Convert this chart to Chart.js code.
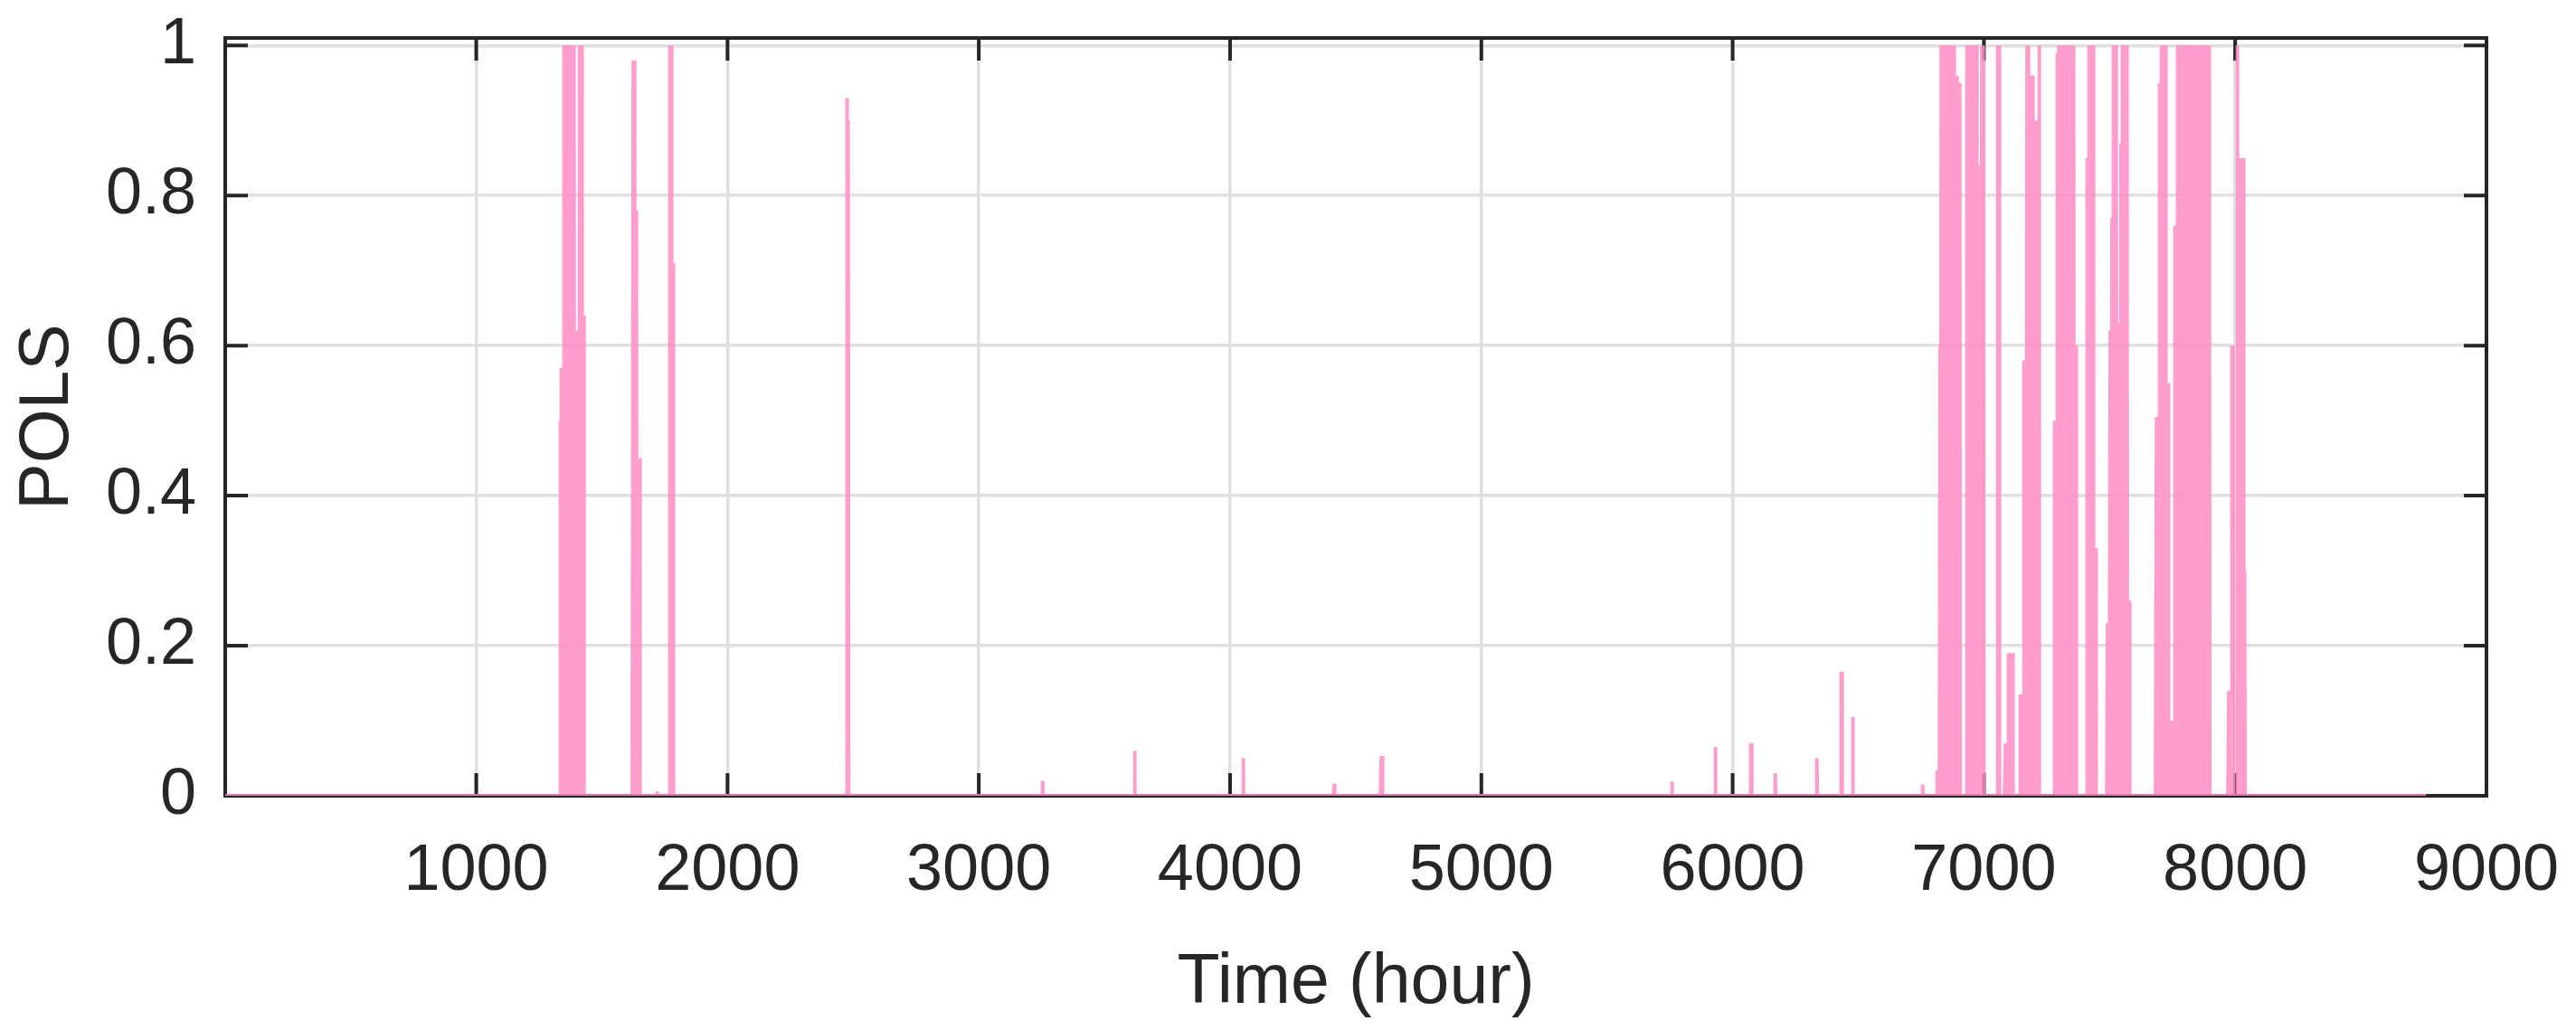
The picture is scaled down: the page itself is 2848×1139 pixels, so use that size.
<!DOCTYPE html>
<html>
<head>
<meta charset="utf-8">
<script src="https://cdn.jsdelivr.net/npm/chart.js@4.4.1/dist/chart.umd.min.js"></script>
<style>
  html, body { margin: 0; padding: 0; background: #ffffff; overflow: hidden; }
  canvas { display: block; }
</style>
</head>
<body>
<canvas id="chart" width="2848" height="1139" style="width:2848px;height:1139px"></canvas>
<script>
// ---------------- data ----------------
const hoursInYear = 8760;

// hours with a non-zero POLS value (all other hours are 0)
const spikeHours = [
  1336, 1340, 1344, 1350, 1354, 1358, 1362, 1366, 1370, 1374, 1378, 1382, 1386, 1390,
  1396, 1400, 1404, 1411, 1415, 1420, 1427,
  1625, 1630, 1638, 1646, 1652, 1720, 1772, 1777, 1783,
  2475, 2481,
  3255, 3621, 4053, 4415, 4602, 4606,
  5759, 5931, 6071, 6075, 6170, 6336, 6431, 6435, 6479, 6757, 6815,
  6826, 6830, 6834, 6840, 6845, 6850, 6855, 6860, 6865, 6870, 6875, 6880, 6885, 6892, 6905,
  6932, 6937, 6942, 6947, 6952, 6957, 6962, 6967, 6972, 6980, 6992, 6998,
  7055, 7061, 7086, 7098, 7106, 7114, 7145, 7152, 7160,
  7172, 7177, 7182, 7188, 7195, 7205, 7212, 7220,
  7282, 7292, 7298, 7304, 7310, 7316, 7322, 7328, 7334, 7340, 7346, 7352, 7358, 7368,
  7412, 7418, 7424, 7430, 7436, 7445,
  7492, 7503, 7510, 7516, 7522, 7527, 7535, 7546, 7552, 7558, 7564, 7570, 7580,
  7687, 7692, 7700, 7706, 7712, 7718, 7724, 7733, 7745, 7760, 7765,
  7772, 7778, 7784, 7790, 7796, 7802, 7808, 7814, 7820, 7826, 7832, 7838, 7844, 7850,
  7856, 7862, 7868, 7874, 7880, 7886, 7893, 7898,
  7975, 7986, 7992, 8010, 8016, 8022, 8028, 8034, 8038
];
const spikeValues = [
  0.50, 0.57, 0.50, 1.00, 1.00, 0.77, 1.00, 1.00, 0.55, 1.00, 1.00, 0.26, 1.00, 1.00,
  0.62, 0.22, 0.62, 1.00, 1.00, 1.00, 0.64,
  0.98, 0.98, 0.78, 0.45, 0.45, 0.006, 1.00, 1.00, 0.71,
  0.93, 0.90,
  0.02, 0.06, 0.05, 0.016, 0.053, 0.053,
  0.019, 0.065, 0.07, 0.07, 0.03, 0.05, 0.165, 0.165, 0.105, 0.015, 0.034,
  0.60, 1.00, 1.00, 1.00, 1.00, 1.00, 1.00, 1.00, 1.00, 1.00, 1.00, 1.00, 0.96, 0.96, 0.95,
  1.00, 1.00, 1.00, 0.34, 1.00, 1.00, 1.00, 1.00, 1.00, 0.84, 1.00, 1.00,
  1.00, 1.00, 0.07, 0.19, 0.19, 0.19, 0.135, 0.135, 0.58,
  1.00, 1.00, 0.96, 0.96, 0.96, 0.90, 0.90, 1.00,
  0.50, 0.99, 1.00, 1.00, 1.00, 1.00, 1.00, 1.00, 1.00, 1.00, 1.00, 1.00, 1.00, 0.60,
  0.85, 1.00, 1.00, 1.00, 1.00, 0.33,
  0.23, 0.62, 0.77, 1.00, 1.00, 1.00, 0.63, 0.87, 1.00, 0.86, 1.00, 1.00, 0.26,
  0.505, 0.505, 0.95, 1.00, 1.00, 1.00, 1.00, 0.55, 0.10, 0.76, 0.76,
  1.00, 0.98, 1.00, 1.00, 0.34, 1.00, 1.00, 1.00, 1.00, 1.00, 0.83, 1.00, 1.00, 1.00,
  1.00, 1.00, 1.00, 1.00, 1.00, 1.00, 0.43, 1.00,
  0.14, 0.60, 0.60, 1.00, 0.85, 0.85, 0.85, 0.85, 0.30
];

const xTickValues = [1000, 2000, 3000, 4000, 5000, 6000, 7000, 8000, 9000];
const xTickLabels = ['1000', '2000', '3000', '4000', '5000', '6000', '7000', '8000', '9000'];
const yTickValues = [0, 0.2, 0.4, 0.6, 0.8, 1];
const yTickLabels = ['0', '0.2', '0.4', '0.6', '0.8', '1'];
const xAxisTitle = 'Time (hour)';
const yAxisTitle = 'POLS';

// ---------------- build the hourly series ----------------
const valueByHour = new Map(spikeHours.map((h, i) => [h, spikeValues[i]]));
const series = [];
for (let h = 1; h <= hoursInYear; h++) {
  series.push({ x: h, y: valueByHour.has(h) ? valueByHour.get(h) : 0 });
}

// ---------------- styling ----------------
const TEXT = '#262626';
const FONT = "'Liberation Sans', Arial, Helvetica, sans-serif";

// MATLAB-like box with inward tick marks, drawn beneath the data
const boxPlugin = {
  id: 'box',
  beforeDatasetsDraw(chart) {
    const { ctx, chartArea: ca } = chart;
    const xs = chart.scales.x, ys = chart.scales.y;
    const tl = 25;
    ctx.save();
    ctx.strokeStyle = TEXT;
    ctx.lineWidth = 4;
    ctx.lineCap = 'butt';
    ctx.beginPath();
    xTickValues.forEach(v => {
      const px = xs.getPixelForValue(v);
      ctx.moveTo(px, ca.bottom); ctx.lineTo(px, ca.bottom - tl);
      ctx.moveTo(px, ca.top); ctx.lineTo(px, ca.top + tl);
    });
    yTickValues.forEach(v => {
      const py = ys.getPixelForValue(v);
      ctx.moveTo(ca.left, py); ctx.lineTo(ca.left + tl, py);
      ctx.moveTo(ca.right, py); ctx.lineTo(ca.right - tl, py);
    });
    ctx.stroke();
    ctx.lineJoin = 'miter';
    ctx.strokeRect(ca.left, ca.top, ca.right - ca.left, ca.bottom - ca.top);
    ctx.restore();
  }
};

new Chart(document.getElementById('chart').getContext('2d'), {
  type: 'line',
  data: {
    datasets: [{
      data: series,
      borderColor: 'rgba(255,141,195,0.85)',
      borderWidth: 4,
      borderJoinStyle: 'bevel',
      pointRadius: 0,
      tension: 0,
      fill: false
    }]
  },
  options: {
    responsive: false,
    devicePixelRatio: 1,
    animation: false,
    parsing: false,
    normalized: true,
    events: [],
    layout: { padding: { left: 0, right: 99, top: 42, bottom: 0 } },
    plugins: { legend: { display: false }, tooltip: { enabled: false } },
    scales: {
      x: {
        type: 'linear',
        min: 1,
        max: 9000,
        afterBuildTicks: s => { s.ticks = xTickValues.map(v => ({ value: v })); },
        afterFit: s => { s.height = 259; s.paddingLeft = 0; s.paddingRight = 0; },
        grid: { color: '#e0e0e0', lineWidth: 3.5, drawTicks: false },
        border: { display: false },
        ticks: {
          color: TEXT,
          font: { family: FONT, size: 72 },
          padding: 41,
          maxRotation: 0,
          autoSkip: false,
          callback: (v) => xTickLabels[xTickValues.indexOf(v)] ?? ''
        },
        title: {
          display: true,
          text: xAxisTitle,
          color: TEXT,
          font: { family: FONT, size: 77 },
          padding: { top: 0, bottom: 5 }
        }
      },
      y: {
        type: 'linear',
        min: 0,
        max: 1.01,
        afterBuildTicks: s => { s.ticks = yTickValues.map(v => ({ value: v })); },
        afterFit: s => { s.width = 249; s.paddingTop = 0; s.paddingBottom = 0; },
        grid: { color: '#e0e0e0', lineWidth: 3.5, drawTicks: false },
        border: { display: false },
        ticks: {
          color: TEXT,
          font: { family: FONT, size: 72 },
          padding: 32,
          autoSkip: false,
          callback: (v) => yTickLabels[yTickValues.indexOf(v)] ?? ''
        },
        title: {
          display: true,
          text: yAxisTitle,
          color: TEXT,
          font: { family: FONT, size: 77 },
          padding: { top: 8, bottom: 0 }
        }
      }
    }
  },
  plugins: [boxPlugin]
});
</script>
</body>
</html>
